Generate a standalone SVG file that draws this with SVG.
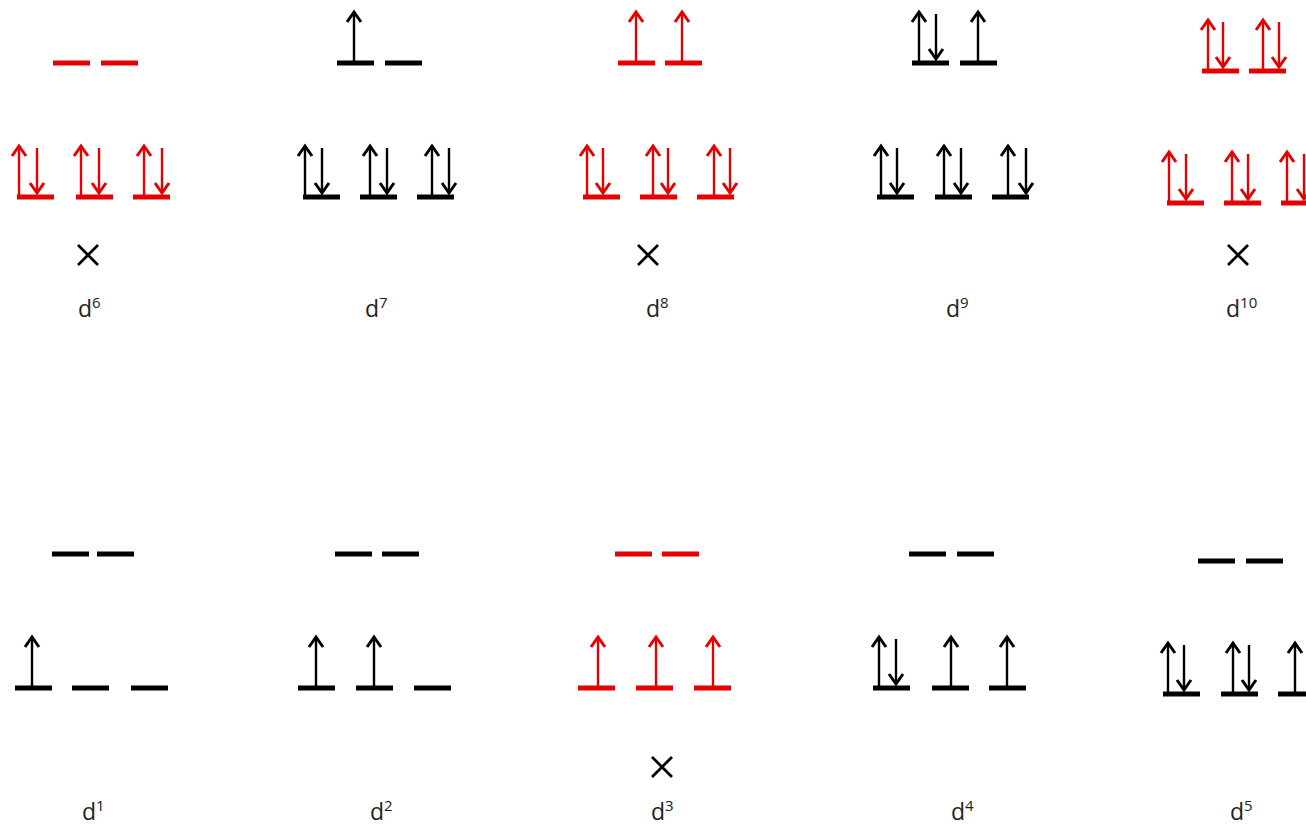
<svg xmlns="http://www.w3.org/2000/svg" xmlns:xlink="http://www.w3.org/1999/xlink" width="1306" height="825" viewBox="0 0 1306 825">
<style>
.k{fill:#000;stroke:#000}
.r{fill:#e60000;stroke:#e60000}
.bar{stroke:none}
.arr{fill:none;stroke-width:2.4;stroke-linecap:butt;stroke-linejoin:miter}
.hd{fill:none;stroke-width:3;stroke-linejoin:miter}
.x{stroke:#000;stroke-width:2.8;fill:none}
.lbl{font-family:"Open Sans","Liberation Sans",Arial,sans-serif;font-size:23px;fill:#222;stroke:none}
.sup{font-size:15px}
</style>
<defs>
<g id="up"><path class="arr" d="M0,0 V-51"/><path class="hd" d="M-7,-41 L0,-51 L7,-41"/></g>
<g id="dn"><path class="arr" d="M0,-49 V-4"/><path class="hd" d="M-7,-14 L0,-4 L7,-14"/></g>
<rect id="b" class="bar" x="0" y="-2.5" width="37" height="5"/>
</defs>
<rect width="1306" height="825" fill="#fff"/>

<g id="d6" class="r">
<use xlink:href="#b" x="53" y="63"/><use xlink:href="#b" x="101" y="63"/>
<use xlink:href="#b" x="17" y="197"/><use xlink:href="#b" x="76" y="197"/><use xlink:href="#b" x="133" y="197"/>
<use xlink:href="#up" x="19" y="197"/><use xlink:href="#dn" x="37" y="197"/>
<use xlink:href="#up" x="81" y="197"/><use xlink:href="#dn" x="99" y="197"/>
<use xlink:href="#up" x="144" y="197"/><use xlink:href="#dn" x="162" y="197"/>
</g>
<g id="d7" class="k">
<use xlink:href="#b" x="337" y="63"/><use xlink:href="#b" x="385" y="63"/>
<use xlink:href="#up" x="354" y="63"/>
<use xlink:href="#b" x="303" y="197"/><use xlink:href="#b" x="360" y="197"/><use xlink:href="#b" x="417" y="197"/>
<use xlink:href="#up" x="305" y="197"/><use xlink:href="#dn" x="322" y="197"/>
<use xlink:href="#up" x="370" y="197"/><use xlink:href="#dn" x="387" y="197"/>
<use xlink:href="#up" x="432" y="197"/><use xlink:href="#dn" x="449" y="197"/>
</g>
<g id="d8" class="r">
<use xlink:href="#b" x="618" y="63"/><use xlink:href="#b" x="665" y="63"/>
<use xlink:href="#up" x="636" y="63"/><use xlink:href="#up" x="682" y="63"/>
<use xlink:href="#b" x="583" y="197"/><use xlink:href="#b" x="640" y="197"/><use xlink:href="#b" x="697" y="197"/>
<use xlink:href="#up" x="587" y="197"/><use xlink:href="#dn" x="603" y="197"/>
<use xlink:href="#up" x="653" y="197"/><use xlink:href="#dn" x="668" y="197"/>
<use xlink:href="#up" x="714" y="197"/><use xlink:href="#dn" x="730" y="197"/>
</g>
<g id="d9" class="k">
<use xlink:href="#b" x="912" y="63"/><use xlink:href="#b" x="960" y="63"/>
<use xlink:href="#up" x="919" y="63"/><use xlink:href="#dn" x="936" y="63"/><use xlink:href="#up" x="978" y="63"/>
<use xlink:href="#b" x="877" y="197"/><use xlink:href="#b" x="935" y="197"/><use xlink:href="#b" x="992" y="197"/>
<use xlink:href="#up" x="881" y="197"/><use xlink:href="#dn" x="897" y="197"/>
<use xlink:href="#up" x="944" y="197"/><use xlink:href="#dn" x="961" y="197"/>
<use xlink:href="#up" x="1008" y="197"/><use xlink:href="#dn" x="1026" y="197"/>
</g>
<g id="d10" class="r">
<use xlink:href="#b" x="1202" y="71"/><use xlink:href="#b" x="1249" y="71"/>
<use xlink:href="#up" x="1208" y="71"/><use xlink:href="#dn" x="1223" y="71"/>
<use xlink:href="#up" x="1263" y="71"/><use xlink:href="#dn" x="1279" y="71"/>
<use xlink:href="#b" x="1167" y="203"/><use xlink:href="#b" x="1224" y="203"/><use xlink:href="#b" x="1281" y="203"/>
<use xlink:href="#up" x="1169" y="203"/><use xlink:href="#dn" x="1186" y="203"/>
<use xlink:href="#up" x="1232" y="203"/><use xlink:href="#dn" x="1248" y="203"/>
<use xlink:href="#up" x="1287" y="203"/><use xlink:href="#dn" x="1304" y="203"/>
</g>

<g id="d1" class="k">
<use xlink:href="#b" x="52" y="554"/><use xlink:href="#b" x="97" y="554"/>
<use xlink:href="#b" x="15" y="688"/><use xlink:href="#b" x="72" y="688"/><use xlink:href="#b" x="131" y="688"/>
<use xlink:href="#up" x="32" y="688"/>
</g>
<g id="d2" class="k">
<use xlink:href="#b" x="335" y="554"/><use xlink:href="#b" x="382" y="554"/>
<use xlink:href="#b" x="298" y="688"/><use xlink:href="#b" x="356" y="688"/><use xlink:href="#b" x="414" y="688"/>
<use xlink:href="#up" x="316" y="688"/><use xlink:href="#up" x="374" y="688"/>
</g>
<g id="d3" class="r">
<use xlink:href="#b" x="615" y="554"/><use xlink:href="#b" x="662" y="554"/>
<use xlink:href="#b" x="578" y="688"/><use xlink:href="#b" x="636" y="688"/><use xlink:href="#b" x="694" y="688"/>
<use xlink:href="#up" x="598" y="688"/><use xlink:href="#up" x="656" y="688"/><use xlink:href="#up" x="713" y="688"/>
</g>
<g id="d4" class="k">
<use xlink:href="#b" x="909" y="554"/><use xlink:href="#b" x="957" y="554"/>
<use xlink:href="#b" x="873" y="688"/><use xlink:href="#b" x="932" y="688"/><use xlink:href="#b" x="989" y="688"/>
<use xlink:href="#up" x="879" y="688"/><use xlink:href="#dn" x="896" y="688"/>
<use xlink:href="#up" x="951" y="688"/><use xlink:href="#up" x="1007" y="688"/>
</g>
<g id="d5" class="k">
<use xlink:href="#b" x="1198" y="561"/><use xlink:href="#b" x="1246" y="561"/>
<use xlink:href="#b" x="1163" y="694"/><use xlink:href="#b" x="1221" y="694"/><use xlink:href="#b" x="1278" y="694"/>
<use xlink:href="#up" x="1168" y="694"/><use xlink:href="#dn" x="1184" y="694"/>
<use xlink:href="#up" x="1233" y="694"/><use xlink:href="#dn" x="1249" y="694"/>
<use xlink:href="#up" x="1295" y="694"/>
</g>

<g id="marks">
<path class="x" d="M78,245 L98,265 M98,245 L78,265"/>
<path class="x" d="M638,245 L658,265 M658,245 L638,265"/>
<path class="x" d="M1228,245 L1248,265 M1248,245 L1228,265"/>
<path class="x" d="M652,757 L672,777 M672,757 L652,777"/>
</g>

<g id="labels">
<text class="lbl" x="78" y="317">d<tspan class="sup" dy="-9">6</tspan></text>
<text class="lbl" x="365" y="317">d<tspan class="sup" dy="-9">7</tspan></text>
<text class="lbl" x="646" y="317">d<tspan class="sup" dy="-9">8</tspan></text>
<text class="lbl" x="946" y="317">d<tspan class="sup" dy="-9">9</tspan></text>
<text class="lbl" x="1226" y="317">d<tspan class="sup" dy="-9">10</tspan></text>
<text class="lbl" x="82" y="820">d<tspan class="sup" dy="-9">1</tspan></text>
<text class="lbl" x="370" y="820">d<tspan class="sup" dy="-9">2</tspan></text>
<text class="lbl" x="651" y="820">d<tspan class="sup" dy="-9">3</tspan></text>
<text class="lbl" x="951" y="820">d<tspan class="sup" dy="-9">4</tspan></text>
<text class="lbl" x="1230" y="820">d<tspan class="sup" dy="-9">5</tspan></text>
</g>
</svg>
